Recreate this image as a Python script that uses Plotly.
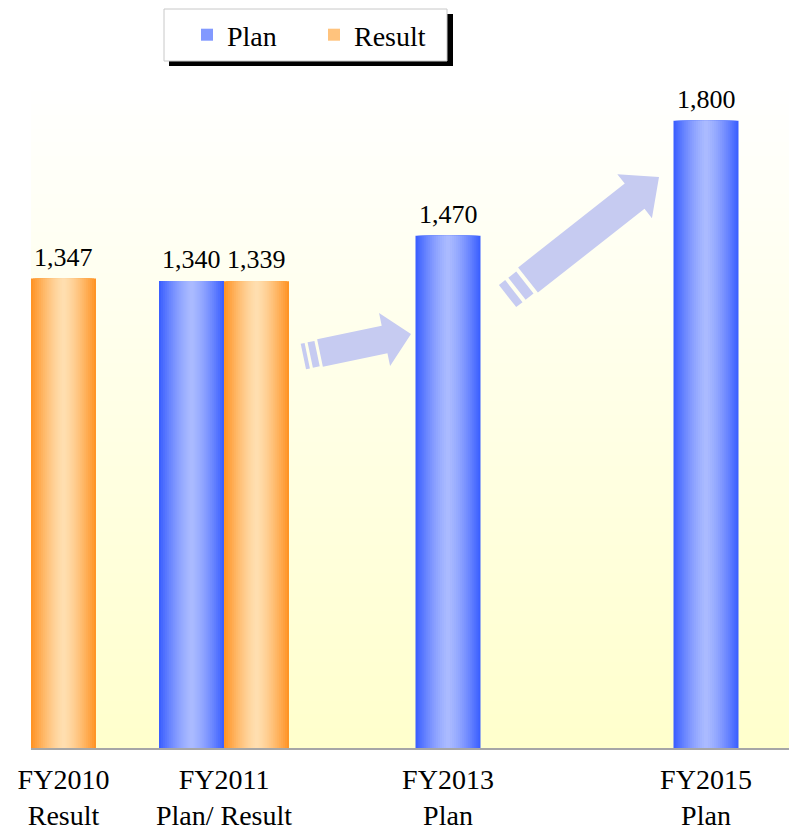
import plotly.graph_objects as go
import zlib, struct, base64, math

# ---------------- data ----------------
categories = ["FY2010<br>Result", "FY2011<br>Plan/ Result", "FY2013<br>Plan", "FY2015<br>Plan"]
plan_values = [None, 1340, 1470, 1800]
result_values = [1347, 1339, None, None]

# ---------------- layout constants ----------------
W, H = 789, 831
ML, MR, MT, MB = 31, 0, 51, 83
PW, PH = W - ML - MR, H - MT - MB
cat_pos = [32.5, 193, 417, 675]        # category centres (x-axis units = px from plot left)
BAR_W = 65
Y_MAX = 2000
FONT = "Liberation Serif"


def px2x(X):
    return (X - ML) / PW


def px2y(Y):
    return (H - MB - Y) / PH


def series_x(vals, other, side):
    xs = []
    for i, v in enumerate(vals):
        if v is None:
            xs.append(None)
        elif other[i] is not None:
            xs.append(cat_pos[i] + side * BAR_W / 2)
        else:
            xs.append(cat_pos[i])
    return xs


def lerp(c1, c2, t):
    return "rgb(%d,%d,%d)" % tuple(round(a + (b - a) * t) for a, b in zip(c1, c2))


def gradient_png(rows):
    w = 2
    raw = b"".join(b"\x00" + bytes(c) * w for c in rows)

    def chunk(t, d):
        c = struct.pack(">I", len(d)) + t + d
        return c + struct.pack(">I", zlib.crc32(t + d) & 0xFFFFFFFF)

    png = (b"\x89PNG\r\n\x1a\n"
           + chunk(b"IHDR", struct.pack(">IIBBBBB", w, len(rows), 8, 2, 0, 0, 0))
           + chunk(b"IDAT", zlib.compress(raw))
           + chunk(b"IEND", b""))
    return "data:image/png;base64," + base64.b64encode(png).decode()


fig = go.Figure()
annotations = []

# ---------------- gradient bars (stacked overlay layers) ----------------
N = 16
specs = [
    ("Plan", plan_values, series_x(plan_values, result_values, -1), (60, 96, 255), (172, 188, 255)),
    ("Result", result_values, series_x(result_values, plan_values, +1), (255, 148, 38), (255, 224, 178)),
]
for name, vals, xs, edge, mid in specs:
    for k in range(N):
        d = 1 - k / N
        col = lerp(mid, edge, d ** 1.4)
        fig.add_trace(go.Bar(
            x=xs, y=vals, width=BAR_W * d, name=name, legendgroup=name,
            showlegend=(k == N // 2),
            marker=dict(color=col, line=dict(width=0)),
            hoverinfo="skip"))
    for x, v in zip(xs, vals):
        if v is not None:
            annotations.append(dict(x=x, y=v, text=f"{v:,}", showarrow=False,
                                    xref="x", yref="y", yanchor="bottom", yshift=5,
                                    font=dict(family=FONT, size=26, color="black")))

# ---------------- background gradient ----------------
rows = []
for r in range(256):
    Y = MT + (r + 0.5) / 256 * PH
    t = max(0.0, min(1.0, (H - MB - Y) / (H - MB - 85)))
    rows.append((255, 255, round(204 + 51 * t)))
images = [dict(source=gradient_png(rows), xref="paper", yref="paper", x=0, y=1,
               sizex=1, sizey=1, sizing="stretch", layer="below", xanchor="left", yanchor="top")]

# ---------------- decorative arrows ----------------
def arrow_paths(T, P, bw, hw, hl, stripes, sw):
    ux, uy = P[0] - T[0], P[1] - T[1]
    L = math.hypot(ux, uy)
    ux, uy = ux / L, uy / L
    nx, ny = -uy, ux
    B = (P[0] - hl * ux, P[1] - hl * uy)
    pts = [(T[0] + bw * nx, T[1] + bw * ny), (B[0] + bw * nx, B[1] + bw * ny),
           (B[0] + hw * nx, B[1] + hw * ny), P,
           (B[0] - hw * nx, B[1] - hw * ny), (B[0] - bw * nx, B[1] - bw * ny),
           (T[0] - bw * nx, T[1] - bw * ny)]
    polys = [pts]
    for a, b in stripes:
        A = (T[0] - a * ux, T[1] - a * uy)
        Bb = (T[0] - b * ux, T[1] - b * uy)
        polys.append([(A[0] + sw * nx, A[1] + sw * ny), (Bb[0] + sw * nx, Bb[1] + sw * ny),
                      (Bb[0] - sw * nx, Bb[1] - sw * ny), (A[0] - sw * nx, A[1] - sw * ny)])
    out = []
    for poly in polys:
        out.append("M " + " L ".join(f"{px2x(x):.5f},{px2y(y):.5f}" for x, y in poly) + " Z")
    return out


shapes = []
for T, P, bw, hw, hl, stripes, sw in [
    ((320, 353), (411, 334), 14, 27, 27, [(3, 10), (13, 17)], 13),
    ((528, 280), (659, 177), 16, 28, 31, [(4, 14), (18, 26)], 14),
]:
    for p in arrow_paths(T, P, bw, hw, hl, stripes, sw):
        shapes.append(dict(type="path", path=p, xref="paper", yref="paper",
                           fillcolor="#c6cbf1", line=dict(width=0), layer="above"))

# legend box with shadow
shapes.append(dict(type="rect", xref="paper", yref="paper",
                   x0=px2x(169), x1=px2x(453), y0=px2y(14), y1=px2y(66),
                   fillcolor="black", line=dict(width=0), layer="above"))
shapes.append(dict(type="rect", xref="paper", yref="paper",
                   x0=px2x(164), x1=px2x(447), y0=px2y(9), y1=px2y(61),
                   fillcolor="white", line=dict(width=1, color="#c8c8c8"), layer="above"))

fig.update_layout(
    width=W, height=H,
    margin=dict(l=ML, r=MR, t=MT, b=MB, pad=0),
    barmode="overlay",
    paper_bgcolor="white", plot_bgcolor="rgba(0,0,0,0)",
    images=images, shapes=shapes, annotations=annotations,
    font=dict(family=FONT, color="black"),
    showlegend=True,
    legend=dict(orientation="h", x=px2x(187), xanchor="left", y=px2y(35), yanchor="middle",
                bgcolor="rgba(0,0,0,0)", borderwidth=0, font=dict(family=FONT, size=28),
                entrywidth=82, traceorder="normal"),
    xaxis=dict(range=[0, PW], tickvals=cat_pos, ticktext=categories,
               showline=True, linecolor="#a6a6a6", linewidth=2, showgrid=False, zeroline=False,
               ticks="outside", ticklen=5, tickcolor="rgba(0,0,0,0)",
               tickfont=dict(family=FONT, size=28, color="black"), automargin=False, fixedrange=True),
    yaxis=dict(range=[0, Y_MAX], visible=False, fixedrange=True),
)

fig.write_html("out.html")
